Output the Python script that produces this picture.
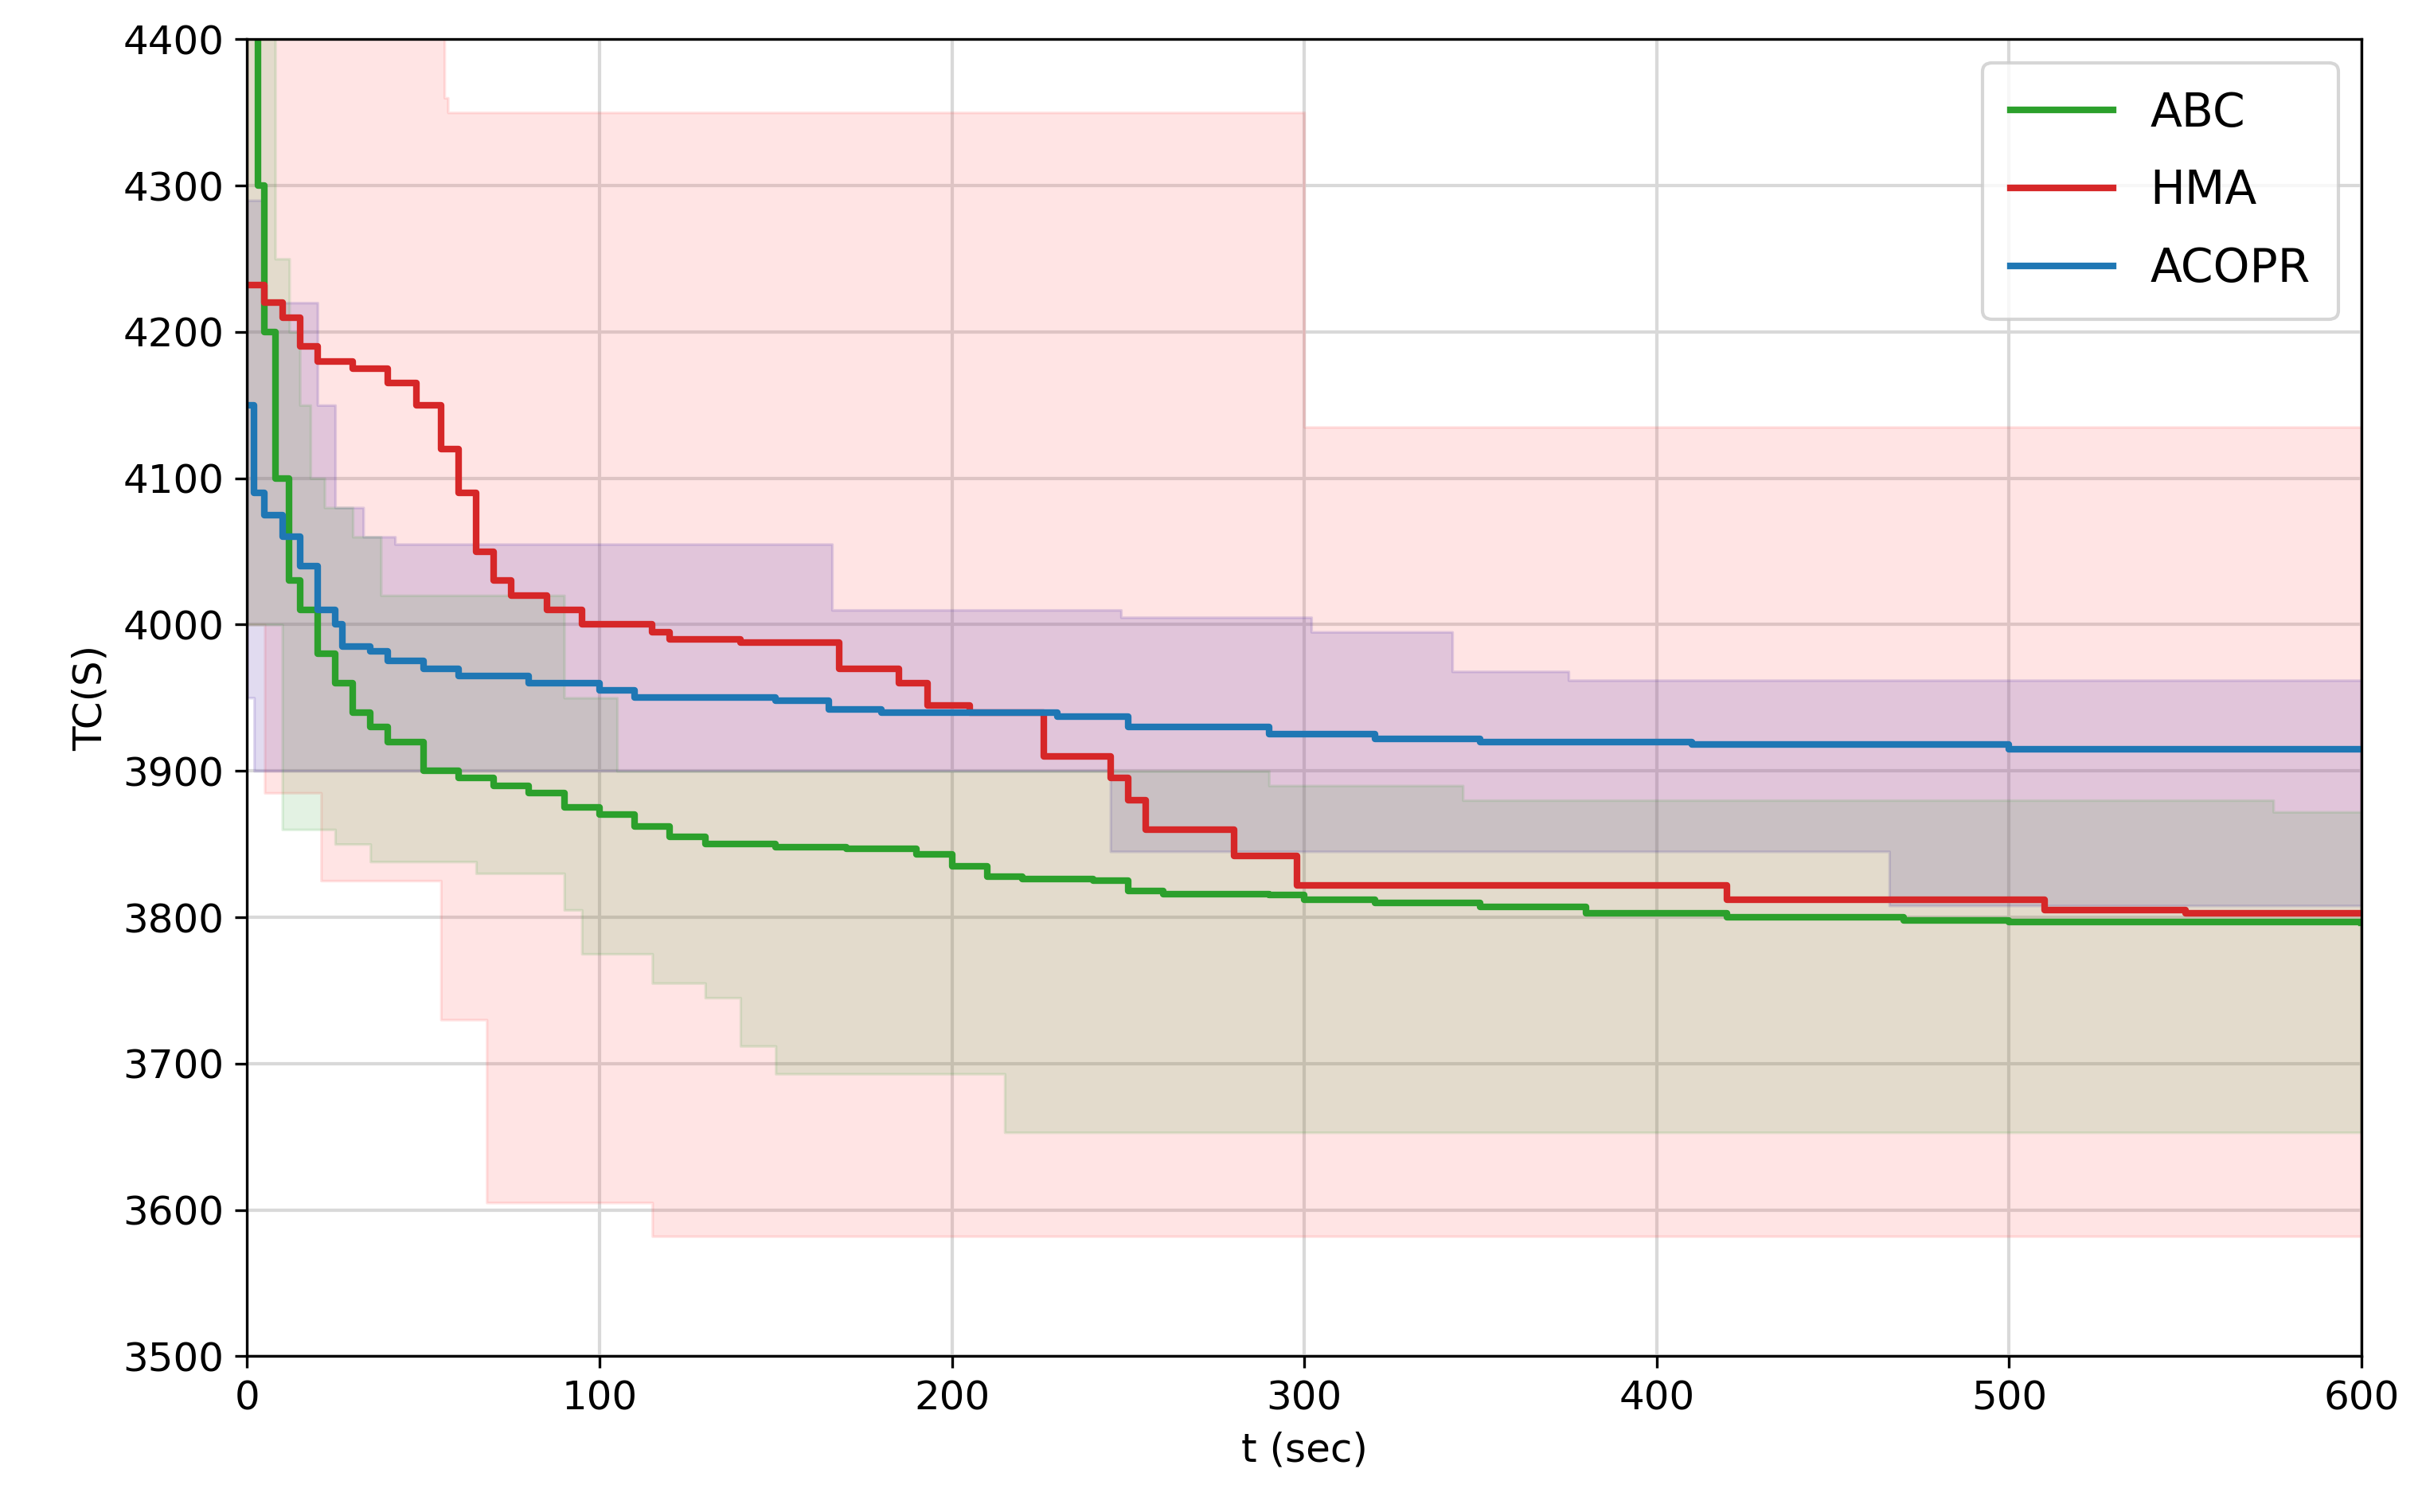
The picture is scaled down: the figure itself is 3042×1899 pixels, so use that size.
import numpy as np, pandas as pd, seaborn as sns, matplotlib
matplotlib.use("Agg")
import matplotlib.pyplot as plt

abc_t = [0,3,5,8,12,15,20,25,30,35,40,50,60,70,80,90,100,110,120,130,150,170,190,200,210,220,240,250,260,290,300,320,350,380,420,470,500,600]
abc_y = [4500,4300,4200,4100,4030,4010,3980,3960,3940,3930,3920,3900,3895,3890,3885,3875,3870,3862,3855,3850,3848,3847,3843,3835,3828,3826,3825,3818,3816,3815,3812,3810,3807,3803,3800,3798,3797,3796]
hma_t = [0,5,10,15,20,30,40,48,55,60,65,70,75,85,95,115,120,140,168,185,193,205,226,245,250,255,280,298,420,510,550,600]
hma_y = [4232,4220,4210,4190,4180,4175,4165,4150,4120,4090,4050,4030,4020,4010,4000,3995,3990,3988,3970,3960,3945,3940,3910,3895,3880,3860,3842,3822,3812,3805,3803,3803]
aco_t = [0,2,5,10,15,20,25,27,35,40,50,60,80,100,110,150,165,180,230,250,290,320,350,410,500,600]
aco_y = [4150,4090,4075,4060,4040,4010,4000,3985,3982,3975,3970,3965,3960,3955,3950,3948,3942,3940,3937,3930,3925,3922,3920,3918,3915,3915]

hma_up_t = [0,56,57,300,600]; hma_up = [4500,4360,4350,4135,4135]
hma_lo_t = [0,5,21,55,68,115,600]; hma_lo = [4000,3885,3825,3730,3605,3582,3582]
aco_up_t = [0,5,20,25,33,42,166,248,302,342,375,600]; aco_up = [4290,4220,4150,4080,4060,4055,4010,4005,3995,3968,3962,3962]
aco_lo_t = [0,2,245,466,600]; aco_lo = [3950,3900,3845,3808,3808]
abc_up_t = [0,8,12,15,18,22,30,38,90,105,290,345,575,600]; abc_up = [4500,4250,4200,4150,4100,4080,4060,4020,3950,3900,3890,3880,3872,3872]
abc_lo_t = [0,10,25,35,65,90,95,115,130,140,150,215,600]; abc_lo = [4000,3860,3850,3838,3830,3805,3775,3755,3745,3712,3693,3653,3653]

fig, ax = plt.subplots(figsize=(10.14, 6.33), dpi=300)
def band(ut, uv, lt, lv, c, a):
    t = np.arange(0, 601)
    u = np.array(uv)[np.searchsorted(ut, t, side='right') - 1]
    l = np.array(lv)[np.searchsorted(lt, t, side='right') - 1]
    ax.fill_between(t, l, u, color=c, alpha=a, step='post', lw=0.8)
band(hma_up_t, hma_up, hma_lo_t, hma_lo, '#ff4d4d', 0.15)
band(aco_up_t, aco_up, aco_lo_t, aco_lo, '#5a3ab0', 0.18)
band(abc_up_t, abc_up, abc_lo_t, abc_lo, '#2ca02c', 0.13)

for t, y, c, n in [(abc_t, abc_y, '#2ca02c', 'ABC'), (hma_t, hma_y, '#d62728', 'HMA'), (aco_t, aco_y, '#1f77b4', 'ACOPR')]:
    sns.lineplot(x=t, y=y, ax=ax, color=c, label=n, drawstyle='steps-post', lw=2)

ax.set_xlim(0, 600); ax.set_ylim(3500, 4400)
ax.grid(True, color='#d9d9d9', lw=1)
ax.set_axisbelow(True)
ax.set_xlabel('t (sec)', fontsize=12); ax.set_ylabel('TC(S)', fontsize=12)
ax.tick_params(labelsize=12)
ax.legend(loc='upper right', fontsize=14, borderpad=0.6, labelspacing=0.7, handlelength=2.2)
fig.subplots_adjust(left=0.102, right=0.975, top=0.974, bottom=0.103)
fig.savefig('out.png')
